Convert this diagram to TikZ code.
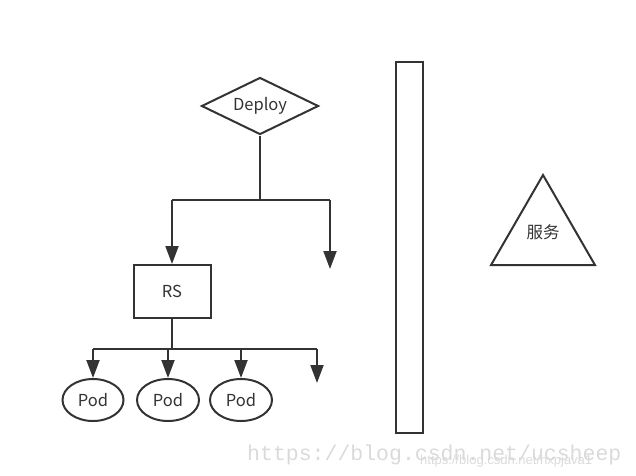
\documentclass[tikz,border=0pt]{standalone}
\usepackage{fontspec}
\setmainfont{Noto Sans CJK SC}
\newfontfamily\wmmono{Liberation Mono}
\newfontfamily\wmsans{Liberation Sans}
\usetikzlibrary{shapes.geometric,arrows.meta}
\definecolor{ink}{HTML}{333333}
\definecolor{wm}{HTML}{DADADA}
\tikzset{
  every node/.style={font=\fontsize{16.5pt}{19pt}\selectfont, text=ink},
  shp/.style={draw=ink, line width=2pt, fill=white},
  conn/.style={draw=ink, line width=2pt},
  arr/.style={conn, -{Triangle[width=13pt,length=18pt]}},
}
\begin{document}
\begin{tikzpicture}[x=1pt,y=-1pt]
\useasboundingbox (0,0) rectangle (636,475);
% Deploy
\node[shp, diamond, aspect=2, minimum width=117pt, minimum height=57pt, inner sep=0pt] (deploy) at (260,106) {Deploy};
\coordinate (j1) at (260,200);
\coordinate (j1l) at (172,200);
\coordinate (j1r) at (330,200);
\coordinate (free1) at (330,269);
\node[shp, minimum width=77pt, minimum height=53pt, inner sep=0pt] (rs) at (172,291.5) {RS};
\draw[conn] (deploy.south) -- (j1);
\draw[conn] (j1l) -- (j1r);
\draw[arr] (j1l) -- (rs.north);
\draw[arr] (j1r) -- (free1);
% Pods
\node[shp, ellipse, minimum width=61pt, minimum height=42pt, inner sep=0pt] (pod1) at (93,400) {Pod};
\node[shp, ellipse, minimum width=62pt, minimum height=42pt, inner sep=0pt] (pod2) at (168,400) {Pod};
\node[shp, ellipse, minimum width=62pt, minimum height=42pt, inner sep=0pt] (pod3) at (241,400) {Pod};
\coordinate (j2) at (172,349);
\coordinate (j2a) at (93,349);
\coordinate (j2b) at (168,349);
\coordinate (j2c) at (241,349);
\coordinate (j2d) at (317,349);
\coordinate (free2) at (317,383);
\draw[conn] (rs.south) -- (j2);
\draw[conn] (j2a) -- (j2d);
\draw[arr] (j2a) -- (pod1.north);
\draw[arr] (j2b) -- (pod2.north);
\draw[arr] (j2c) -- (pod3.north);
\draw[arr] (j2d) -- (free2);
% tall bar
\node[shp, minimum width=27pt, minimum height=371pt, inner sep=0pt] (bar) at (409.5,247.5) {};
% service triangle
\node[shp, regular polygon, regular polygon sides=3, minimum size=120pt, inner sep=0pt] (svc) at (543,235) {};
\node (svctext) at (543,232) {服务};
% watermark
\node[anchor=base west, text=wm, font=\wmmono\fontsize{21.5pt}{24pt}\selectfont, inner sep=0pt] (wm1) at (247,460) {https://blog.csdn.net/ucsheep};
\node[anchor=base west, text=wm, font=\wmsans\fontsize{13pt}{15pt}\selectfont, inner sep=0pt] (wm2) at (420,464) {https://blog.csdn.net/nxpjava1};
\end{tikzpicture}
\end{document}
